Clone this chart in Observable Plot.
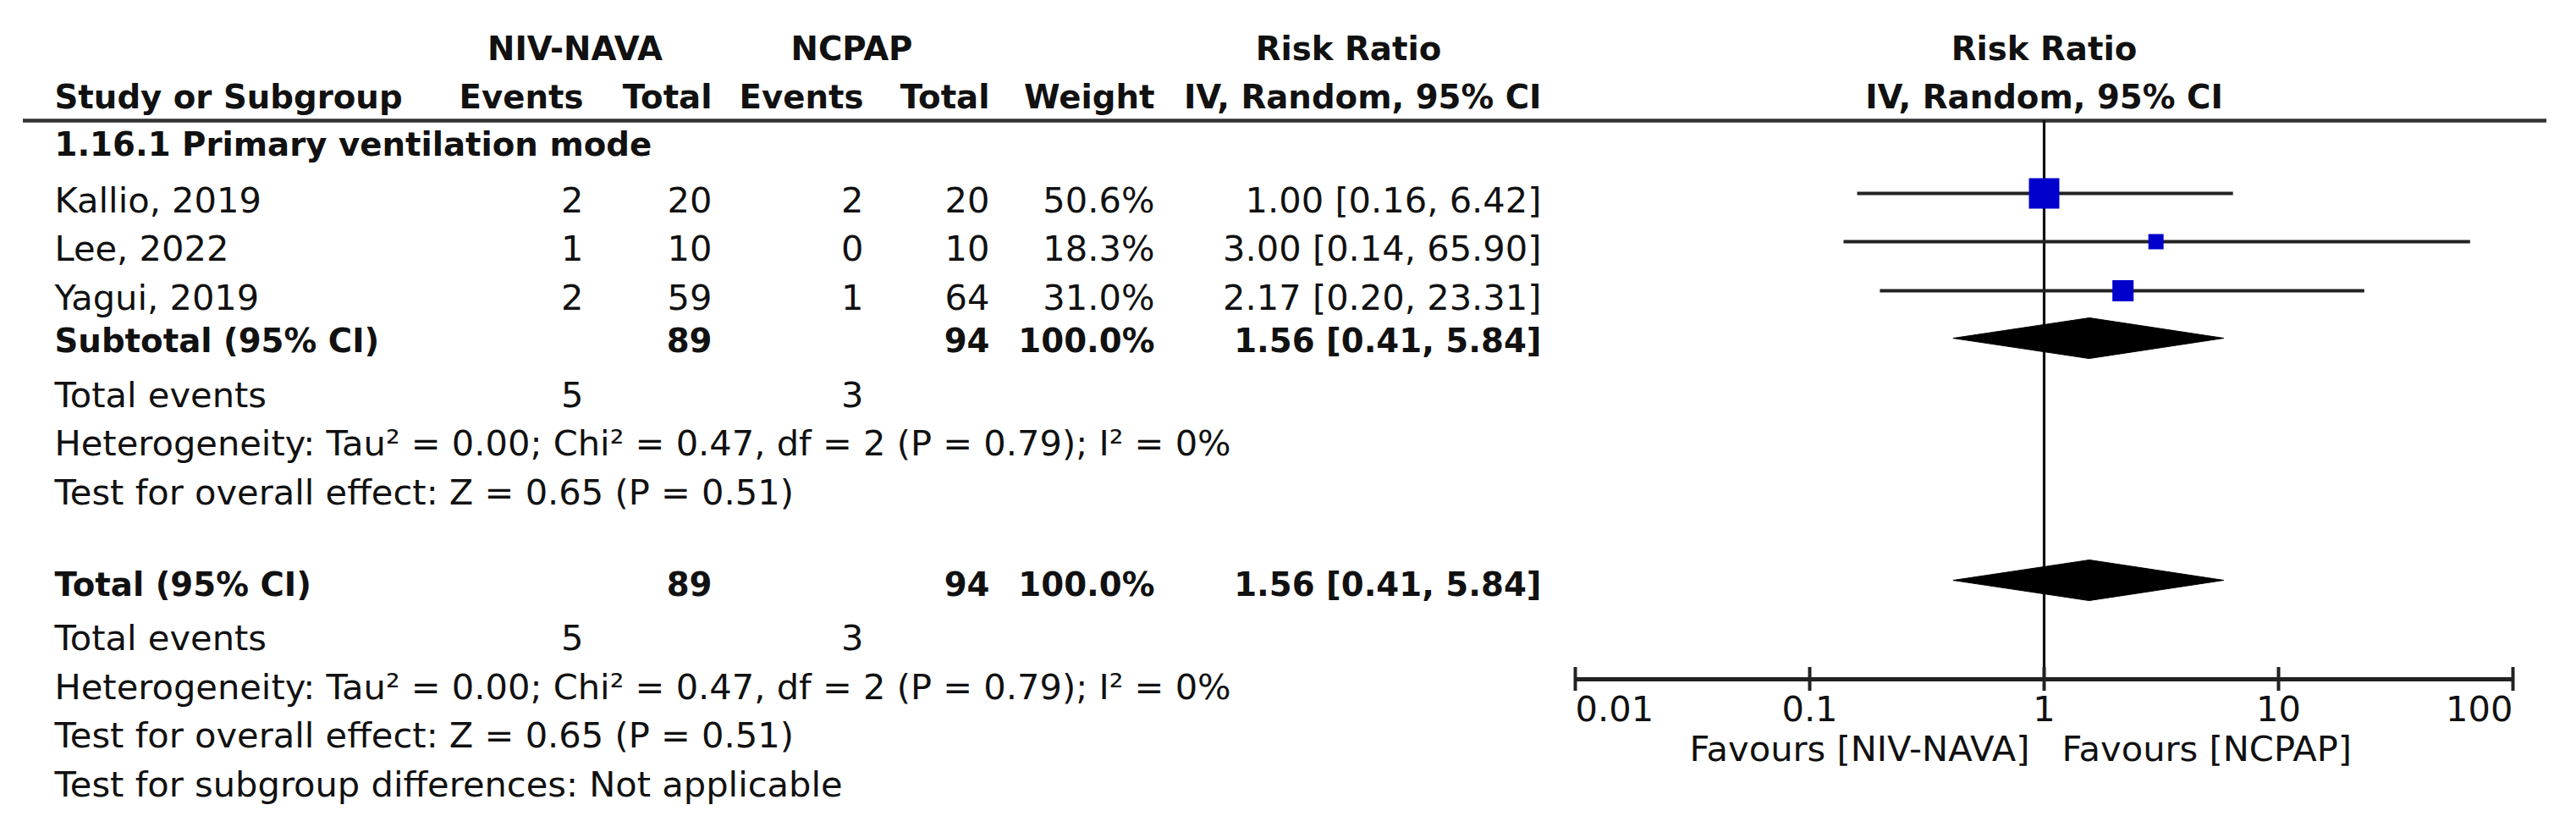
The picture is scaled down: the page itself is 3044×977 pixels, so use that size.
<!DOCTYPE html>
<html>
<head>
<meta charset="utf-8">
<script src="https://cdn.jsdelivr.net/npm/d3@7"></script>
<script src="https://cdn.jsdelivr.net/npm/@observablehq/plot@0.6"></script>
<style>
  html, body { margin: 0; padding: 0; background: #fff; }
  #chart svg { display: block; }
</style>
</head>
<body>
<div id="chart"></div>
<script>
// ---------------- data ----------------
const groupA = "NIV-NAVA";
const groupB = "NCPAP";
const subgroupName = "1.16.1 Primary ventilation mode";
const studies = ["Kallio, 2019", "Lee, 2022", "Yagui, 2019"];
const eventsA = [2, 1, 2];
const totalA = [20, 10, 59];
const eventsB = [2, 0, 1];
const totalB = [20, 10, 64];
const weights = [50.6, 18.3, 31.0];
const ratios = [1.00, 3.00, 2.17];
const lower = [0.16, 0.14, 0.20];
const upper = [6.42, 65.90, 23.31];
const pooled = {rr: 1.56, lo: 0.41, hi: 5.84, w: 100.0, nA: 89, nB: 94, evA: 5, evB: 3};
const heterogeneityText = "Heterogeneity: Tau² = 0.00; Chi² = 0.47, df = 2 (P = 0.79); I² = 0%";
const overallText = "Test for overall effect: Z = 0.65 (P = 0.51)";
const subgroupDiffText = "Test for subgroup differences: Not applicable";
const tickValues = [0.01, 0.1, 1, 10, 100];
const tickLabels = ["0.01", "0.1", "1", "10", "100"];
const favoursLeft = "Favours [NIV-NAVA]";
const favoursRight = "Favours [NCPAP]";

// ---------------- layout ----------------
const W = 3044, H = 977, ML = 27, MR = 35;
const colX = {label: 64, nivE: 689, nivT: 841, ncE: 1020, ncT: 1169, w: 1364, ci: 1821};
const colAnchor = {label: "start", nivE: "end", nivT: "end", ncE: "end", ncT: "end", w: "end", ci: "end"};
const base = {h1: 70, h2: 127, sub: 183, s0: 250, s1: 307, s2: 365, subtotal: 415, ev1: 480,
  het1: 537, z1: 595, total: 703, ev2: 767, het2: 825, z2: 882, sg: 940};
const headerLineY = 142, axisY = 802, tickHalf = 14, tickLabelY = 851, favoursY = 898;
const studyDy = -22, diamondCenters = {subtotal: 399, total: 685}, diamondHalf = 24;
const FS = 41.6, FSB = 38.7, FONT = "DejaVu Sans", INK = "#111";

// ---------------- table rows ----------------
const fmtCI = (r, l, h) => `${r.toFixed(2)} [${l.toFixed(2)}, ${h.toFixed(2)}]`;
const fmtW = w => w.toFixed(1) + "%";
const rows = [
  {id: "sub", label: subgroupName, bold: true},
  ...studies.map((s, i) => ({id: "s" + i, label: s, nivE: eventsA[i], nivT: totalA[i], ncE: eventsB[i],
    ncT: totalB[i], w: fmtW(weights[i]), ci: fmtCI(ratios[i], lower[i], upper[i])})),
  {id: "subtotal", label: "Subtotal (95% CI)", nivT: pooled.nA, ncT: pooled.nB, w: fmtW(pooled.w),
    ci: fmtCI(pooled.rr, pooled.lo, pooled.hi), bold: true},
  {id: "ev1", label: "Total events", nivE: pooled.evA, ncE: pooled.evB},
  {id: "het1", label: heterogeneityText},
  {id: "z1", label: overallText},
  {id: "total", label: "Total (95% CI)", nivT: pooled.nA, ncT: pooled.nB, w: fmtW(pooled.w),
    ci: fmtCI(pooled.rr, pooled.lo, pooled.hi), bold: true},
  {id: "ev2", label: "Total events", nivE: pooled.evA, ncE: pooled.evB},
  {id: "het2", label: heterogeneityText},
  {id: "z2", label: overallText},
  {id: "sg", label: subgroupDiffText}
];
const header2 = {label: "Study or Subgroup", nivE: "Events", nivT: "Total", ncE: "Events", ncT: "Total",
  w: "Weight", ci: "IV, Random, 95% CI"};
const header1 = [{t: groupA, x: 679}, {t: groupB, x: 1006}, {t: "Risk Ratio", x: 1593}];

const textCommon = {frameAnchor: "left", lineAnchor: "bottom", fontFamily: FONT, fill: INK};
const marks = [];

// column cells
for (const k of Object.keys(colX)) {
  for (const bold of [false, true]) {
    const data = rows.filter(r => r[k] != null && !!r.bold === bold);
    if (!data.length) continue;
    marks.push(Plot.text(data, {...textCommon, y: r => base[r.id], text: r => String(r[k]),
      dx: colX[k] - ML, textAnchor: colAnchor[k], fontSize: bold ? FSB : FS, fontWeight: bold ? "bold" : "normal"}));
  }
  marks.push(Plot.text([header2[k]], {...textCommon, y: () => base.h2, text: d => d,
    dx: colX[k] - ML, textAnchor: colAnchor[k], fontSize: FSB, fontWeight: "bold"}));
}
for (const h of header1) {
  marks.push(Plot.text([h], {...textCommon, y: () => base.h1, text: d => d.t,
    dx: h.x - ML, textAnchor: "middle", fontSize: FSB, fontWeight: "bold"}));
}

// forest plot data
const forest = studies.map((s, i) => ({rr: ratios[i], lo: lower[i], hi: upper[i], w: weights[i], y: base["s" + i] + studyDy}));
const diamonds = Object.entries(diamondCenters).flatMap(([id, yc]) => [
  {id, x: pooled.lo, y: yc}, {id, x: pooled.rr, y: yc - diamondHalf},
  {id, x: pooled.hi, y: yc}, {id, x: pooled.rr, y: yc + diamondHalf}
]);

marks.push(
  Plot.ruleY([headerLineY], {stroke: "#333", strokeWidth: 4.5}),
  Plot.ruleX([1], {y1: headerLineY, y2: axisY, stroke: "#111", strokeWidth: 3.2}),
  Plot.ruleY(forest, {x1: "lo", x2: "hi", y: "y", stroke: "#222", strokeWidth: 4.2}),
  Plot.dot(forest, {x: "rr", y: "y", r: "w", symbol: "square", fill: "#0000cc", stroke: null}),
  Plot.line(diamonds, {x: "x", y: "y", z: "id", fill: "#000", stroke: "#000", strokeWidth: 1, curve: "linear-closed"}),
  Plot.ruleY([axisY], {x1: tickValues[0], x2: tickValues[tickValues.length - 1], stroke: "#222", strokeWidth: 5}),
  Plot.ruleX(tickValues, {x: d => d, y1: axisY - tickHalf, y2: axisY + tickHalf, stroke: "#222", strokeWidth: 4}),
  Plot.text([0], {x: i => tickValues[i], y: () => tickLabelY, text: i => tickLabels[i], textAnchor: "start",
    lineAnchor: "bottom", fontFamily: FONT, fontSize: FS, fill: INK}),
  Plot.text(d3.range(1, tickValues.length - 1), {x: i => tickValues[i], y: () => tickLabelY, text: i => tickLabels[i],
    textAnchor: "middle", lineAnchor: "bottom", fontFamily: FONT, fontSize: FS, fill: INK}),
  Plot.text([tickValues.length - 1], {x: i => tickValues[i], y: () => tickLabelY, text: i => tickLabels[i],
    textAnchor: "end", lineAnchor: "bottom", fontFamily: FONT, fontSize: FS, fill: INK}),
  Plot.text([favoursLeft], {x: () => 1, y: () => favoursY, text: d => d, textAnchor: "end", dx: -17,
    lineAnchor: "bottom", fontFamily: FONT, fontSize: FS, fill: INK}),
  Plot.text([favoursRight], {x: () => 1, y: () => favoursY, text: d => d, textAnchor: "start", dx: 21,
    lineAnchor: "bottom", fontFamily: FONT, fontSize: FS, fill: INK}),
  Plot.text(["Risk Ratio"], {x: () => 1, y: () => base.h1, text: d => d, textAnchor: "middle",
    lineAnchor: "bottom", fontFamily: FONT, fontSize: FSB, fontWeight: "bold", fill: INK}),
  Plot.text(["IV, Random, 95% CI"], {x: () => 1, y: () => base.h2, text: d => d, textAnchor: "middle",
    lineAnchor: "bottom", fontFamily: FONT, fontSize: FSB, fontWeight: "bold", fill: INK})
);

const chart = Plot.plot({
  width: W, height: H,
  marginLeft: ML, marginRight: MR, marginTop: 0, marginBottom: 0,
  style: {fontFamily: FONT, background: "#fff"},
  x: {type: "log", domain: [tickValues[0], tickValues[tickValues.length - 1]], range: [1861, 2969], axis: null},
  y: {type: "linear", domain: [0, H], range: [0, H], axis: null},
  r: {type: "linear", domain: [0, 100], range: [4.4, 35.8]},
  marks
});
document.getElementById("chart").appendChild(chart);
</script>
</body>
</html>
